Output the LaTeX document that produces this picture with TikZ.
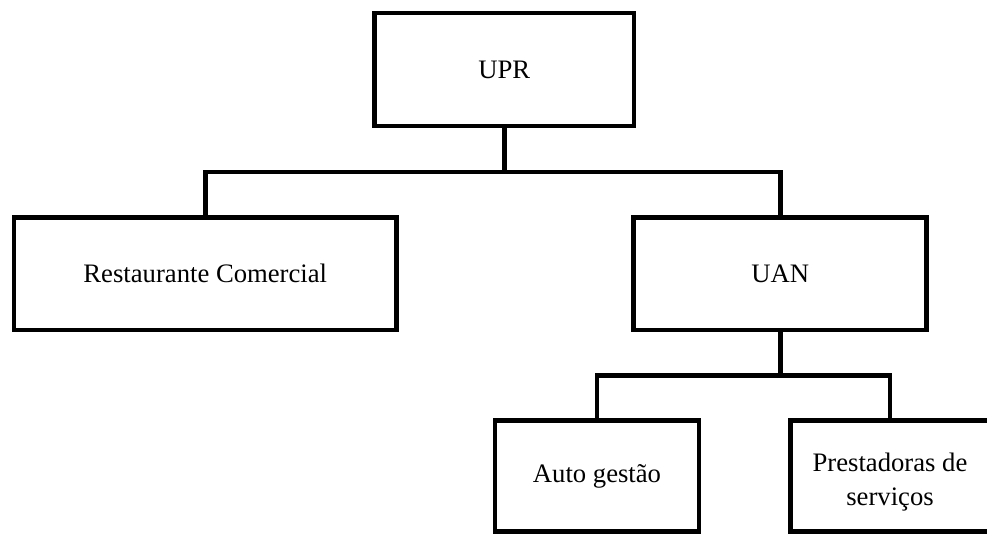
\documentclass[tikz,border=0pt]{standalone}
\usepackage{fontspec}
\setmainfont{Liberation Serif}
\begin{document}
\begin{tikzpicture}[x=0.75pt,y=-0.75pt,
  box/.style={draw=black,line width=3.5pt,rectangle,inner sep=0pt,align=center,
    font=\fontsize{20}{25.5}\selectfont},
  conn/.style={draw=black,line width=3.5pt}]
\useasboundingbox (0,0) rectangle (987,534);
\clip (0,0) rectangle (987,534);
\fill[white] (0,0) rectangle (987,534);
\node[box,minimum width=259.5*0.75pt,minimum height=113*0.75pt] (upr) at (504.25,69.5) {UPR};
\node[box,minimum width=382.5*0.75pt,minimum height=112.5*0.75pt] (rest) at (205.25,273.75) {Restaurante Comercial};
\node[box,minimum width=293*0.75pt,minimum height=112.5*0.75pt] (uan) at (780.2,273.75) {UAN};
\node[box,minimum width=204*0.75pt,minimum height=110.8*0.75pt] (auto) at (597,476.1) {\raisebox{-1.5pt}{Auto gestão}};
\node[box,minimum width=300*0.75pt,minimum height=110.8*0.75pt,anchor=west] (prest) at (788.3,476.1) {};
\node[font=\fontsize{20}{25.5}\selectfont,align=center,inner sep=0pt] (prestt) at (890,482.5) {Prestadoras de\\serviços};
\coordinate (j1) at (504.25,172);
\coordinate (j2) at (780.2,375.7);
\coordinate (pj) at (890,420.7);
\draw[conn] (upr.south) -- (j1);
\draw[conn] (rest.north) |- (j1) -| (uan.north);
\draw[conn] (uan.south) -- (j2);
\draw[conn] (auto.north) |- (j2) -| (pj);
\end{tikzpicture}
\end{document}
